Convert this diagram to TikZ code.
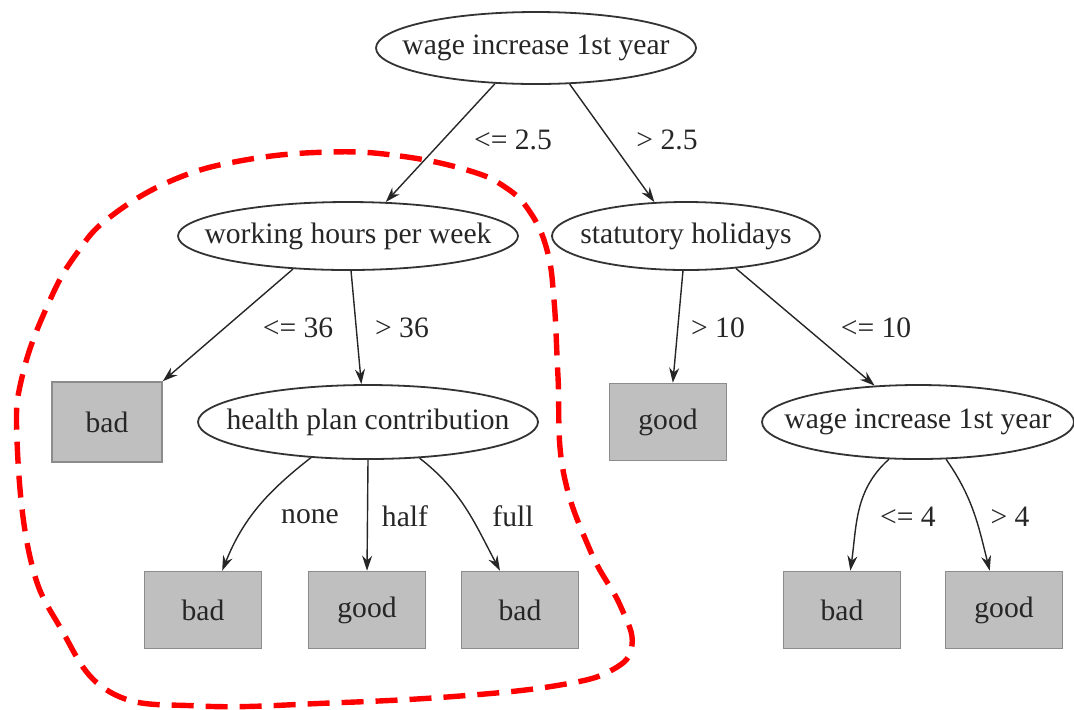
\documentclass[tikz,border=0pt]{standalone}
\usepackage{fontspec}
\setmainfont{Liberation Serif}
\usetikzlibrary{positioning,arrows.meta,shapes.geometric}

\begin{document}
\begin{tikzpicture}[x=0.5pt, y=-0.5pt,
  every node/.style={font=\fontsize{14.8}{17}\selectfont, text=black!85},
  split/.style={draw=black!80, line width=0.9pt, ellipse, fill=white, inner sep=0pt},
  leaf/.style={draw=black!45, line width=0.8pt, fill=black!25, minimum width=58.5pt, minimum height=38.5pt, inner sep=0pt},
  edge/.style={-{Stealth[length=7.5pt,width=5pt]}, line width=0.7pt, black!85},
  cut/.style={red, line width=2.7pt, dash pattern=on 11pt off 6pt}]
\useasboundingbox (0,0) rectangle (1074,709);

% tests
\node (wage) [split, minimum width=160pt, minimum height=36pt, label={center:wage increase 1st year}] at (536,48) {};
\node (hours) [split, minimum width=170pt, minimum height=34pt, label={center:working hours per week}] at (348,236) {};
\node (holid) [split, minimum width=134pt, minimum height=34pt, label={center:statutory holidays}] at (686,236) {};
\node (health) [split, minimum width=170pt, minimum height=37pt, label={center:health plan contribution}] at (368,422) {};
\node (wage2) [split, minimum width=156pt, minimum height=37pt, label={center:wage increase 1st year}] at (918,422) {};

% leaves
\node (bad1) [leaf, minimum width=55pt, minimum height=40pt] at (107,422) {bad};
\node (good1) [leaf] at (668,422) {good};
\node (bad2) [leaf] at (203,610) {bad};
\node (good2) [leaf] at (367,610) {good};
\node (bad3) [leaf] at (520,610) {bad};
\node (bad4) [leaf] at (842,610) {bad};
\node (good3) [leaf] at (1004,610) {good};

% branches
\draw[edge] (wage.221) -- (hours.42);
\draw[edge] (wage.313) -- (holid.133);
\draw[edge] (hours.211) -- (bad1.north east);
\draw[edge] (hours.275) -- (health.100);
\draw[edge] (holid.265) -- (good1.83);
\draw[edge] (holid.327) -- (wage2.140);
\draw[edge] (health.212) to[out=-142,in=68] (bad2.64);
\draw[edge] (health.south) -- (good2.north);
\draw[edge] (health.325) to[out=-38,in=118] (bad3.117);
\draw[edge] (wage2.232) to[out=-138,in=82] (bad4.78);
\draw[edge] (wage2.307) to[out=-55,in=104] (good3.110);

% branch values
\node (le25) at (513,140) {<= 2.5};
\node (gt25) at (667,140) {> 2.5};
\node (le36) at (298,328) {<= 36};
\node (gt36) at (402,328) {> 36};
\node (gt10) at (718,328) {> 10};
\node (le10) at (876,328) {<= 10};
\node (none) at (310,517) {none};
\node (half) at (405,516) {half};
\node (full) at (513,516) {full};
\node (le4) at (908,517) {<= 4};
\node (gt4) at (1010,517) {> 4};

% subtree marked off
\draw[cut] plot[smooth cycle, tension=0.7] coordinates {(330,152) (400,156) (467,170) (505,187) (530,212) (547,250) (554,300) (558,377) (563,470) (590,550) (620,605) (632,645) (612,670) (560,685) (460,696) (330,703) (200,706) (110,692) (60,627) (30,557) (17,440) (23,373) (50,300) (77,253) (110,217) (173,180) (245,160)};
\end{tikzpicture}
\end{document}
